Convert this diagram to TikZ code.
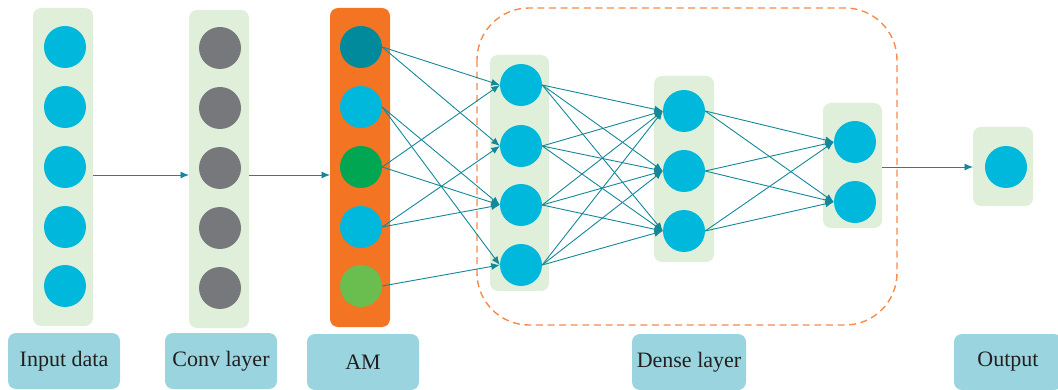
\documentclass[tikz,border=0pt]{standalone}
\usepackage{fontspec}
\setmainfont{Liberation Serif}
\usetikzlibrary{arrows.meta}
\definecolor{panelgreen}{RGB}{224,239,218}
\definecolor{neuron}{RGB}{0,184,220}
\definecolor{greyneuron}{RGB}{119,120,123}
\definecolor{amorange}{RGB}{243,116,35}
\definecolor{darkteal}{RGB}{0,138,156}
\definecolor{midgreen}{RGB}{0,166,81}
\definecolor{lightgreen}{RGB}{106,189,79}
\definecolor{labelblue}{RGB}{154,213,223}
\definecolor{wire}{RGB}{19,136,154}
\definecolor{dashorange}{RGB}{245,139,76}
\definecolor{labeltext}{RGB}{35,31,32}
\tikzset{
  panel/.style={fill=panelgreen, rounded corners=8pt},
  unit/.style={circle, inner sep=0pt, minimum size=42pt, fill=neuron},
  labelbox/.style={fill=labelblue, rounded corners=8pt, text=labeltext,
    font=\fontsize{22}{26}\selectfont},
  wirearrow/.style={draw=wire, line width=0.9pt,
    -{Latex[length=8.5pt,width=7pt]}},
}
\begin{document}
\begin{tikzpicture}[x=1pt,y=-1pt]
\useasboundingbox (0,0) rectangle (1058,390);

% layer panels
\path[panel] (33,8) rectangle (93,326);
\path[panel] (189,10) rectangle (249,328);
\path[fill=amorange, rounded corners=8pt] (330,8) rectangle (390,327);
\path[panel] (490,55) rectangle (549,291);
\path[panel] (654,76) rectangle (714,262);
\path[panel] (823,103) rectangle (882,228);
\path[panel] (973,127) rectangle (1033,206);

% panel edges used by the straight arrows
\coordinate (inR) at (93,175);
\coordinate (cvL) at (189,175);
\coordinate (cvR) at (249,175);
\coordinate (amL) at (330,175);
\coordinate (d3R) at (882,167);
\coordinate (outL) at (973,167);

% dense block outline
\draw[dashorange, line width=1.4pt, dash pattern=on 7pt off 4.6pt,
  rounded corners=52pt] (477,8) rectangle (897,325);

% input layer
\foreach \i/\y in {1/47,2/107,3/167,4/227,5/286}
  \node[unit] (in\i) at (65,\y) {};
% convolution layer
\foreach \i/\y in {1/48,2/108,3/168,4/228,5/288}
  \node[unit, fill=greyneuron] (cv\i) at (220,\y) {};
% attention module
\node[unit, fill=darkteal]   (am1) at (361,47) {};
\node[unit]                  (am2) at (361,107) {};
\node[unit, fill=midgreen]   (am3) at (361,167) {};
\node[unit]                  (am4) at (361,227) {};
\node[unit, fill=lightgreen] (am5) at (361,286) {};
% dense layers
\foreach \i/\y in {1/85,2/146,3/205,4/265}
  \node[unit] (da\i) at (521,\y) {};
\foreach \i/\y in {1/111,2/171,3/231}
  \node[unit] (db\i) at (684,\y) {};
\foreach \i/\y in {1/142,2/202}
  \node[unit] (dc\i) at (855,\y) {};
% output
\node[unit] (out1) at (1006,167) {};

% straight arrows between stages
\draw[wirearrow] (inR) -- (cvL);
\draw[wirearrow] (cvR) -- (amL);
\draw[wirearrow] (d3R) -- (outL);

% attention module to first dense layer
\foreach \s/\t in {1/1,1/2,2/3,2/4,3/1,3/3,4/2,4/3,5/4}
  \draw[wirearrow] (am\s.east) -- (da\t.west);
% first to second dense layer
\foreach \s in {1,...,4}
  \foreach \t in {1,2,3}
    \draw[wirearrow] (da\s.east) -- (db\t.west);
% second to third dense layer
\foreach \s in {1,2,3}
  \foreach \t in {1,2}
    \draw[wirearrow] (db\s.east) -- (dc\t.west);

% stage labels
\node[labelbox, minimum width=112pt, minimum height=56pt] (lin) at (64,361) {Input data};
\node[labelbox, minimum width=112pt, minimum height=56pt] (lcv) at (221,361) {Conv layer};
\node[labelbox, minimum width=112pt, minimum height=56pt] (lam) at (363,362) {AM};
\node[labelbox, minimum width=114pt, minimum height=56pt] (lds) at (689,362) {Dense layer};
\node[labelbox, minimum width=108pt, minimum height=56pt] (lout) at (1008,362) {Output};
\end{tikzpicture}
\end{document}
